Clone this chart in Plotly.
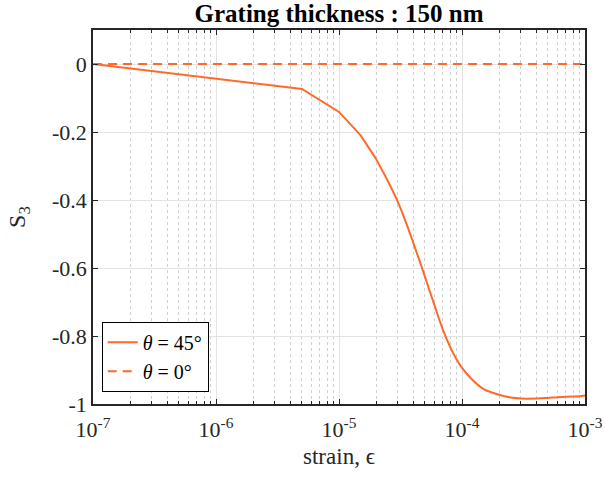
import plotly.graph_objects as go

# solid curve, theta = 45 deg (piecewise-linear part, then smooth part)
strain_a = [1e-7, 5e-6, 1e-5, 1.5e-5, 2e-5]
s3_a = [0.0, -0.0735, -0.141, -0.210, -0.279]
strain_b = [2e-5, 2.5e-5, 3e-5, 3.5e-5, 4e-5, 4.5e-5, 5e-5, 6e-5, 7e-5, 8e-5, 9e-5,
            1e-4, 1.2e-4, 1.5e-4, 1.75e-4, 2e-4, 2.5e-4, 3e-4, 4e-4, 5e-4, 6e-4, 7e-4,
            8e-4, 9e-4, 1e-3]
s3_b = [-0.279, -0.345, -0.405, -0.466, -0.524, -0.577, -0.626, -0.712, -0.782, -0.832,
        -0.868, -0.894, -0.927, -0.956, -0.966, -0.973, -0.981, -0.984, -0.984, -0.982,
        -0.980, -0.979, -0.978, -0.977, -0.975]
# dashed line, theta = 0 deg
strain_0 = [1e-7, 1e-3]
s3_0 = [0.0, 0.0]

x_tickvals = [1e-7, 1e-6, 1e-5, 1e-4, 1e-3]
x_ticktext = ["10<sup>-7</sup>", "10<sup>-6</sup>", "10<sup>-5</sup>", "10<sup>-4</sup>", "10<sup>-3</sup>"]
y_tickvals = [-1, -0.8, -0.6, -0.4, -0.2, 0]
y_ticktext = ["-1", "-0.8", "-0.6", "-0.4", "-0.2", "0"]
minor_vals = [m * 10.0 ** e for e in range(-7, -3) for m in range(2, 10)]

orange = "#ff6a2a"
axcol = "#262626"
font = "Liberation Serif"

fig = go.Figure()
fig.add_trace(go.Scatter(x=strain_a, y=s3_a, mode="lines", name="<i>θ</i> = 45°",
                         legendgroup="a", line=dict(color=orange, width=2)))
fig.add_trace(go.Scatter(x=strain_b, y=s3_b, mode="lines", name="<i>θ</i> = 45°",
                         legendgroup="a", showlegend=False,
                         line=dict(color=orange, width=2, shape="spline", smoothing=1.0)))
fig.add_trace(go.Scatter(x=strain_0, y=s3_0, mode="lines", name="<i>θ</i> = 0°",
                         line=dict(color=orange, width=2, dash="9px,6px")))

fig.update_layout(
    width=605, height=480,
    margin=dict(l=93, r=20, t=30, b=76),
    paper_bgcolor="white", plot_bgcolor="white",
    font=dict(family=font, size=20, color=axcol),
    title=dict(text="<b>Grating thickness : 150 nm</b>", x=(93 + 246) / 605, xanchor="center",
               y=1 - 13 / 480, yanchor="middle", font=dict(family=font, size=25, color="black")),
    legend=dict(x=0.0177, y=0.033, xanchor="left", yanchor="bottom",
                bgcolor="white", bordercolor="black", borderwidth=1,
                font=dict(family=font, size=20, color="black"),
                tracegroupgap=0, itemwidth=30),
    showlegend=True,
)

fig.update_xaxes(
    type="log", range=[-7, -3], automargin=False,
    tickvals=x_tickvals, ticktext=x_ticktext,
    ticks="inside", ticklen=5, tickcolor=axcol, ticklabelstandoff=5,
    showline=True, linecolor=axcol, linewidth=1.5, mirror="ticks",
    showgrid=True, gridcolor="#e3e3e3", gridwidth=1,
    minor=dict(tickvals=minor_vals, ticks="inside", ticklen=3, tickcolor=axcol, showgrid=True,
               gridcolor="#d0d0d0", griddash="dot", gridwidth=1),
    zeroline=False,
    title=dict(text="strain, ϵ", standoff=7, font=dict(family=font, size=23)),
    tickfont=dict(family=font, size=22, color=axcol),
)
fig.update_yaxes(
    range=[-1, 0.1], automargin=False,
    tickvals=y_tickvals, ticktext=y_ticktext,
    ticks="inside", ticklen=5, tickcolor=axcol,
    showline=True, linecolor=axcol, linewidth=1.5, mirror="ticks",
    showgrid=True, gridcolor="#e3e3e3", gridwidth=1,
    zeroline=False,
    title=dict(text="S<sub>3</sub>", standoff=20, font=dict(family=font, size=24)),
    tickfont=dict(family=font, size=22, color=axcol),
)

fig.write_html("out.html")
